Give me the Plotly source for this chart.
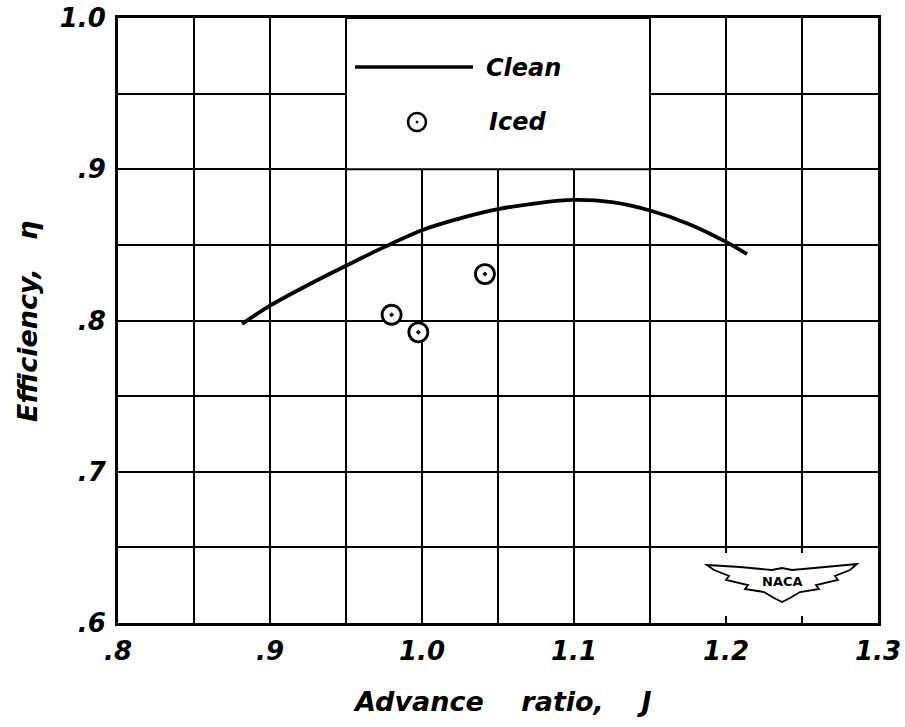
import plotly.graph_objects as go

# Data
clean_J = [0.8816, 0.90, 0.925, 0.95, 0.975, 1.00, 1.025, 1.05, 1.075, 1.10, 1.125, 1.15, 1.175, 1.20, 1.2138]
clean_eta = [0.7977, 0.8098, 0.8235, 0.8362, 0.8485, 0.8597, 0.8675, 0.8736, 0.8775, 0.8797, 0.8782, 0.8727, 0.8640, 0.8520, 0.8439]
iced_J = [0.980, 0.9976, 1.0414]
iced_eta = [0.8038, 0.7922, 0.8307]

x_ticks = [0.8, 0.9, 1.0, 1.1, 1.2, 1.3]
x_labels = [".8", ".9", "1.0", "1.1", "1.2", "1.3"]
y_ticks = [0.6, 0.7, 0.8, 0.9, 1.0]
y_labels = [".6", ".7", ".8", ".9", "1.0"]

FONT = "DejaVu Sans"
W, H = 905, 727
L, R, T, B = 118, 878, 18, 623  # plot area in screen pixels
XR = (0.8, 1.3)
YR = (0.6, 1.0)


def px2d(px, py):
    x = XR[0] + (px - L) / (R - L) * (XR[1] - XR[0])
    y = YR[1] - (py - T) / (B - T) * (YR[1] - YR[0])
    return x, y


def px2p(px, py):
    return (px - L) / (R - L), (B - py) / (B - T)


fig = go.Figure()

fig.add_trace(go.Scatter(
    x=clean_J, y=clean_eta, mode="lines", line=dict(color="black", width=3.8, shape="spline"),
    showlegend=False, hoverinfo="skip"))
fig.add_trace(go.Scatter(
    x=iced_J, y=iced_eta, mode="markers",
    marker=dict(symbol="circle-dot", size=19, color="white", line=dict(color="black", width=2.8)),
    showlegend=False, hoverinfo="skip"))

shapes = []
# legend box covering grid
shapes.append(dict(type="rect", xref="x", yref="y", x0=0.95, y0=0.9, x1=1.15, y1=1.0,
                   fillcolor="white", line=dict(color="black", width=2), layer="above"))
# legend line sample
a = px2d(355, 67)
b = px2d(473, 67)
shapes.append(dict(type="line", xref="x", yref="y", x0=a[0], y0=a[1], x1=b[0], y1=b[1],
                   line=dict(color="black", width=3.5), layer="above"))
# legend circle sample
c0 = px2d(408, 113)
c1 = px2d(426, 131)
shapes.append(dict(type="circle", xref="x", yref="y", x0=c0[0], y0=c1[1], x1=c1[0], y1=c0[1],
                   fillcolor="white", line=dict(color="black", width=2.6), layer="above"))
d0 = px2d(416, 121)
d1 = px2d(418, 123)
shapes.append(dict(type="circle", xref="x", yref="y", x0=d0[0], y0=d1[1], x1=d1[0], y1=d0[1],
                   fillcolor="black", line=dict(color="black", width=1), layer="above"))

# NACA logo area
r0 = px2d(703, 553)
r1 = px2d(862, 616)
shapes.append(dict(type="rect", xref="x", yref="y", x0=r0[0], y0=r1[1], x1=r1[0], y1=r0[1],
                   fillcolor="white", line=dict(width=0), layer="above"))
wing = [(707, 565), (740, 567), (772, 570), (782, 568), (792, 570), (825, 567), (857, 564),
        (850, 570), (835, 576), (838, 580), (816, 585), (819, 589), (800, 592), (790, 598),
        (782, 602), (774, 598), (764, 592), (745, 589), (748, 585), (726, 580), (729, 576), (714, 570)]
path = ""
for i, (px, py) in enumerate(wing):
    dx, dy = px2d(px, py)
    path += ("M" if i == 0 else "L") + f"{dx:.5f},{dy:.5f} "
path += "Z"
shapes.append(dict(type="path", xref="x", yref="y", path=path, fillcolor="white",
                   line=dict(color="black", width=1.8), layer="above"))

annotations = []
lf = dict(family=FONT, size=24, color="black", weight="bold", style="italic")
c = px2p(484, 68)
annotations.append(dict(x=c[0], y=c[1], xref="paper", yref="paper", text="Clean", showarrow=False,
                        xanchor="left", yanchor="middle", font=lf))
c = px2p(487, 122)
annotations.append(dict(x=c[0], y=c[1], xref="paper", yref="paper", text="Iced", showarrow=False,
                        xanchor="left", yanchor="middle", font=lf))
c = px2p(782, 581)
annotations.append(dict(x=c[0], y=c[1], xref="paper", yref="paper", text="NACA", showarrow=False,
                        xanchor="center", yanchor="middle",
                        font=dict(family=FONT, size=13, color="black", weight="bold")))

titlefont = dict(family=FONT, size=27, color="black", weight="bold", style="italic")
c = px2p(502, 701)
annotations.append(dict(x=c[0], y=c[1], xref="paper", yref="paper", text="Advance    ratio,    J", showarrow=False,
                        xanchor="center", yanchor="middle", font=titlefont))
c = px2p(28, 322)
annotations.append(dict(x=c[0], y=c[1], xref="paper", yref="paper", text="Efficiency,   η", showarrow=False,
                        xanchor="center", yanchor="middle", textangle=-90, font=titlefont))

fig.update_layout(shapes=shapes, annotations=annotations)

tickfont = dict(family=FONT, size=26, color="black", weight="bold", style="italic")

fig.update_xaxes(range=list(XR), tickvals=x_ticks, ticktext=x_labels, tickfont=tickfont,
                 showgrid=True, gridcolor="black", gridwidth=2, automargin=False,
                 ticklabeloverflow="allow",
                 minor=dict(tickvals=[0.85, 0.95, 1.05, 1.15, 1.25], showgrid=True, gridcolor="black", gridwidth=2),
                 showline=True, linecolor="black", linewidth=3, mirror=True, zeroline=False,
                 ticks="", ticklabelstandoff=3)
fig.update_yaxes(range=list(YR), tickvals=y_ticks, ticktext=y_labels, tickfont=tickfont,
                 showgrid=True, gridcolor="black", gridwidth=2, automargin=False,
                 ticklabeloverflow="allow",
                 minor=dict(tickvals=[0.65, 0.75, 0.85, 0.95], showgrid=True, gridcolor="black", gridwidth=2),
                 showline=True, linecolor="black", linewidth=3, mirror=True, zeroline=False,
                 ticks="", ticklabelstandoff=4)

fig.update_layout(width=W, height=H, plot_bgcolor="white", paper_bgcolor="white",
                  margin=dict(l=L, r=W - R, t=T, b=H - B), showlegend=False)

fig.write_html("out.html", config={"displayModeBar": False},
               post_script="document.body.style.margin='0px';document.body.style.overflow='hidden';")
